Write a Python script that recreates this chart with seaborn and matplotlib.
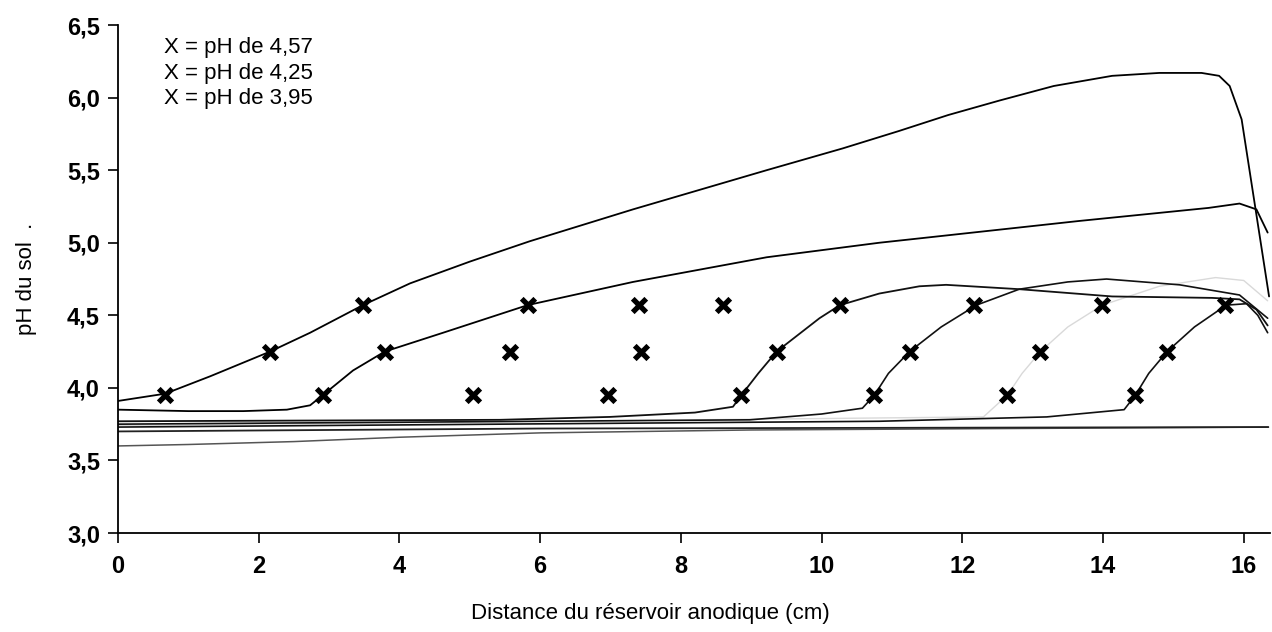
import numpy as np
import pandas as pd
import matplotlib
matplotlib.use("Agg")
import matplotlib.pyplot as plt
import seaborn as sns

# Profils de pH le long de la cellule (distance en cm, pH du sol)
dist_a = [0, 0.67, 1.31, 2.16, 2.73, 3.48, 4.15, 5.0, 5.85, 7.32, 9.22, 10.3, 11.1,
          11.8, 12.53, 13.3, 14.13, 14.8, 15.4, 15.65, 15.8, 15.97, 16.36]
ph_a = [3.91, 3.96, 4.08, 4.25, 4.38, 4.57, 4.72, 4.87, 5.01, 5.23, 5.50, 5.65, 5.77,
        5.88, 5.98, 6.08, 6.15, 6.17, 6.17, 6.15, 6.08, 5.85, 4.63]

dist_b = [0, 1.0, 1.78, 2.4, 2.73, 2.91, 3.34, 3.79, 4.62, 5.82, 7.32, 9.22, 10.82,
          11.39, 13.66, 15.5, 15.94, 16.18, 16.34]
ph_b = [3.85, 3.84, 3.84, 3.85, 3.88, 3.95, 4.12, 4.25, 4.38, 4.57, 4.73, 4.90, 5.00,
        5.03, 5.15, 5.24, 5.27, 5.23, 5.07]

dist_c = [0, 5.43, 6.99, 8.2, 8.74, 8.86, 9.1, 9.36, 9.97, 10.26, 10.82, 11.39, 11.77,
          12.81, 14.13, 15.55, 15.94, 16.18, 16.34]
ph_c = [3.77, 3.78, 3.80, 3.83, 3.87, 3.95, 4.10, 4.25, 4.48, 4.57, 4.65, 4.70, 4.71,
        4.68, 4.63, 4.62, 4.61, 4.54, 4.43]

dist_d = [0, 8.98, 10.0, 10.58, 10.75, 10.95, 11.25, 11.7, 12.2, 12.81, 13.5, 14.05,
          15.09, 15.94, 16.34]
ph_d = [3.75, 3.78, 3.82, 3.86, 3.95, 4.10, 4.25, 4.42, 4.57, 4.68, 4.73, 4.75, 4.71,
        4.64, 4.48]

dist_e = [0, 10.82, 13.2, 14.3, 14.46, 14.65, 14.91, 15.3, 15.75, 16.04, 16.2, 16.34]
ph_e = [3.73, 3.77, 3.80, 3.85, 3.95, 4.10, 4.25, 4.42, 4.57, 4.58, 4.50, 4.38]

dist_h = [0, 12.3, 12.64, 12.85, 13.11, 13.5, 13.99, 14.8, 15.6, 16.0, 16.34]
ph_h = [3.74, 3.80, 3.95, 4.10, 4.25, 4.42, 4.57, 4.70, 4.76, 4.74, 4.60]

dist_f = [0, 6.0, 16.35]
ph_f = [3.70, 3.72, 3.73]

dist_g = [0, 1.0, 2.5, 4.0, 6.0, 9.0, 16.35]
ph_g = [3.60, 3.61, 3.63, 3.66, 3.69, 3.71, 3.73]

# Positions du front pour chaque valeur de pH repère
front_457 = [3.48, 5.82, 7.41, 8.60, 10.26, 12.17, 13.99, 15.74]
front_425 = [2.16, 3.79, 5.57, 7.44, 9.36, 11.25, 13.11, 14.91]
front_395 = [0.67, 2.91, 5.04, 6.96, 8.86, 10.75, 12.64, 14.46]

legend_lines = ["X = pH de 4,57", "X = pH de 4,25", "X = pH de 3,95"]

sns.set_theme(style="white")
plt.rcParams["font.family"] = ["Liberation Sans", "DejaVu Sans"]

fig = plt.figure(figsize=(12.72, 6.32), dpi=100)
ax = fig.add_axes([0.0928, 0.1566, 0.906, 0.8038])

profiles = [
    (dist_g, ph_g, "#555555", 1.1),
    (dist_f, ph_f, "#222222", 1.3),
    (dist_h, ph_h, "#d9d9d9", 1.0),
    (dist_e, ph_e, "#111111", 1.2),
    (dist_d, ph_d, "#111111", 1.2),
    (dist_c, ph_c, "#111111", 1.3),
    (dist_b, ph_b, "#000000", 1.3),
    (dist_a, ph_a, "#000000", 1.3),
]
for xs, ys, col, lw in profiles:
    df = pd.DataFrame({"x": xs, "pH": ys})
    sns.lineplot(data=df, x="x", y="pH", ax=ax, color=col, linewidth=lw,
                 estimator=None, sort=False, legend=False)

fronts = pd.DataFrame({
    "x": front_457 + front_425 + front_395,
    "pH": [4.57] * len(front_457) + [4.25] * len(front_425) + [3.95] * len(front_395),
})
sns.scatterplot(data=fronts, x="x", y="pH", ax=ax, marker="x", color="black",
                s=95, linewidth=3.8, zorder=5, legend=False)

ax.set_xlim(0, 16.38)
ax.set_ylim(3.0, 6.5)
ax.set_xticks(np.arange(0, 17, 2))
ax.set_yticks(np.arange(3.0, 6.51, 0.5))
ax.set_yticklabels([f"{v:.1f}".replace(".", ",") for v in np.arange(3.0, 6.51, 0.5)])
ax.set_xticklabels([str(v) for v in range(0, 17, 2)])

for side in ["top", "right"]:
    ax.spines[side].set_visible(False)
for side in ["left", "bottom"]:
    ax.spines[side].set_color("black")
    ax.spines[side].set_linewidth(1.3)

ax.tick_params(axis="both", direction="out", length=7, width=1.2, color="black",
               labelsize=17, labelcolor="black", bottom=True, left=True)
ax.tick_params(axis="x", pad=9)
ax.tick_params(axis="y", pad=6)
for lab in ax.get_xticklabels() + ax.get_yticklabels():
    lab.set_fontweight("bold")

ax.set_xlabel("Distance du réservoir anodique (cm)", fontsize=16, color="black")
ax.xaxis.set_label_coords(0.462, -0.138)
ax.set_ylabel("pH du sol  .", fontsize=16, color="black")
ax.yaxis.set_label_coords(-0.07, 0.5)

for i, txt in enumerate(legend_lines):
    ax.text(0.04, 0.955 - i * 0.05, txt, transform=ax.transAxes, fontsize=16,
            color="black", va="center", ha="left")

ax.grid(False)
fig.savefig("out.png", dpi=100, facecolor="white")
